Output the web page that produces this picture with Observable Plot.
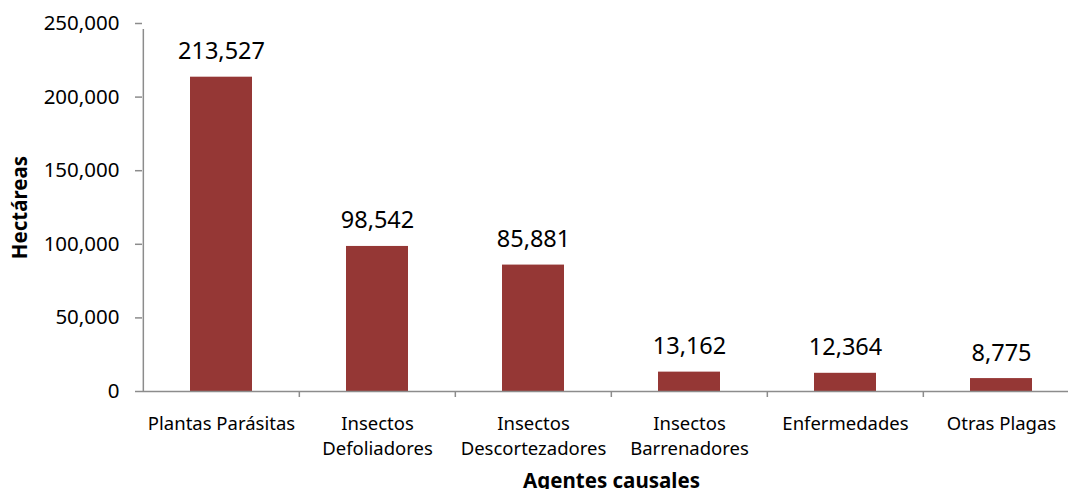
<!DOCTYPE html>
<html>
<head>
<meta charset="utf-8">
<script src="https://cdn.jsdelivr.net/npm/d3@7"></script>
<script src="https://cdn.jsdelivr.net/npm/@observablehq/plot@0.6"></script>
<style>
  html, body { margin: 0; padding: 0; overflow: hidden; background: #fff; }
  #chart { width: 1068px; height: 489px; overflow: hidden; }
  #chart svg { font-family: "Noto Sans", sans-serif; display: block; max-width: none !important; }
</style>
</head>
<body>
<div id="chart"></div>
<script>
const categories = [
  "Plantas Parásitas",
  "Insectos\nDefoliadores",
  "Insectos\nDescortezadores",
  "Insectos\nBarrenadores",
  "Enfermedades",
  "Otras Plagas"
];
const values = [213527, 98542, 85881, 13162, 12364, 8775];
const yTicks = [0, 50000, 100000, 150000, 200000, 250000];
const yTitle = "Hectáreas";
const xTitle = "Agentes causales";

const data = categories.map((c, i) => ({category: c, value: values[i]}));

const W = 1084, H = 489, mL = 142, mR = 4, mT = 23, mB = 98;
const step = (W - mL - mR) / categories.length;
const axisColor = "#8c8c8c";
const fmt = d3.format(",");

const chart = Plot.plot({
  width: W,
  height: H,
  marginLeft: mL,
  marginRight: mR,
  marginTop: mT,
  marginBottom: mB,
  x: {domain: categories, paddingInner: 0.6, paddingOuter: 0.3, axis: null},
  y: {domain: [0, 250000], axis: null},
  marks: [
    Plot.barY(data, {x: "category", y: "value", fill: "#953735"}),
    Plot.ruleY([0], {stroke: axisColor, strokeWidth: 1.5}),
    Plot.ruleX([categories[0]], {x: d => d, dx: -step / 2, y1: 0, y2: 250000, insetBottom: -6, stroke: axisColor, strokeWidth: 1.5}),
    Plot.ruleX(categories.slice(1), {x: d => d, dx: -step / 2, y1: 0, y2: 0, insetBottom: -6, stroke: axisColor, strokeWidth: 1.5}),
    Plot.ruleX([categories[categories.length - 1]], {x: d => d, dx: step / 2, y1: 0, y2: 0, insetBottom: -6, stroke: axisColor, strokeWidth: 1.5}),
    Plot.axisY({ticks: yTicks, tickSize: 7, tickPadding: 16, tickFormat: fmt, fontSize: 20.5, stroke: axisColor, strokeWidth: 1.5, fill: "#000", label: null}),
    Plot.axisX({tickSize: 0, tickPadding: 21, fontSize: 18.5, lineHeight: 1.35, fill: "#000", label: null}),
    Plot.text(data, {x: "category", y: "value", text: d => fmt(d.value), dy: -18, lineAnchor: "bottom", fontSize: 23.5, fill: "#000"}),
    Plot.text([yTitle], {frameAnchor: "left", dx: -122, rotate: -90, textAnchor: "middle", lineAnchor: "middle", fontSize: 20.5, fontWeight: "bold", fill: "#000"}),
    Plot.text([xTitle], {frameAnchor: "bottom", dx: 0, dy: 96, textAnchor: "middle", lineAnchor: "bottom", fontSize: 20.5, fontWeight: "bold", fill: "#000"})
  ]
});
document.getElementById("chart").appendChild(chart);
</script>
</body>
</html>
